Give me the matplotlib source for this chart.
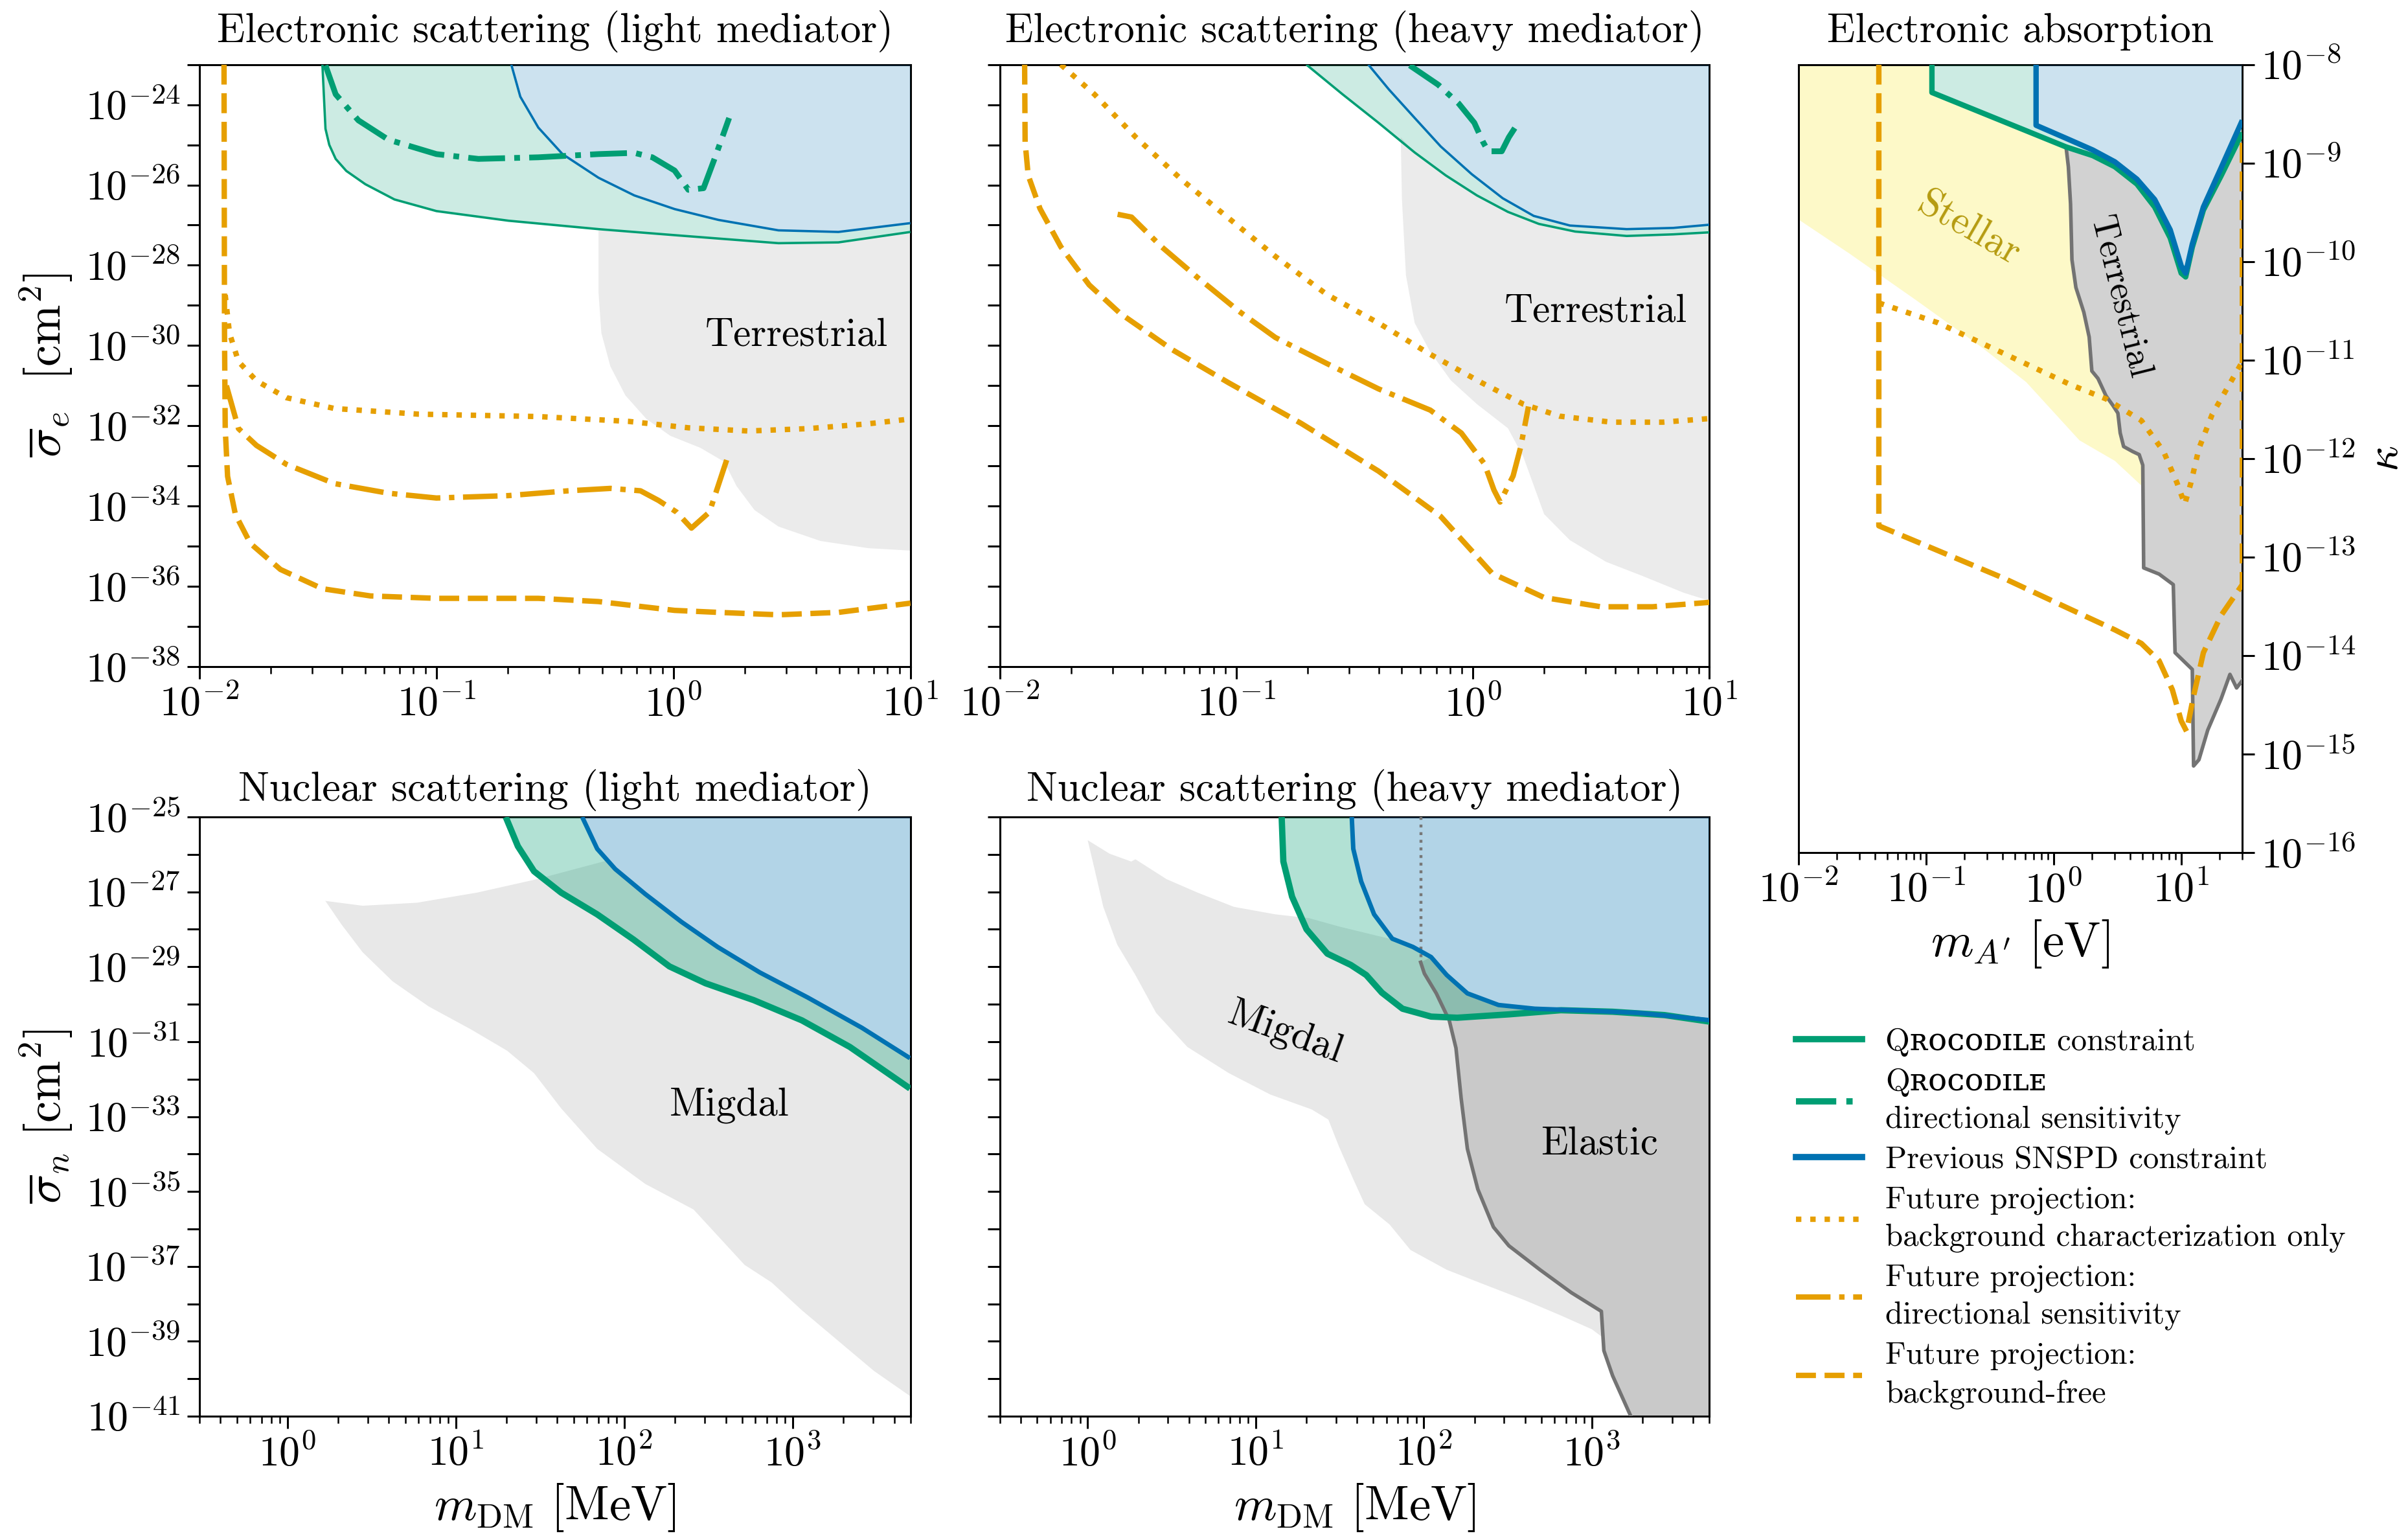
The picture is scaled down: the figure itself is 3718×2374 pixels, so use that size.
import numpy as np
import matplotlib
matplotlib.use("Agg")
import matplotlib.pyplot as plt
from matplotlib.ticker import LogLocator, NullFormatter, NullLocator
from matplotlib.lines import Line2D

plt.rcParams['font.family'] = ['cmr10', 'DejaVu Serif']
plt.rcParams['mathtext.fontset'] = 'cm'
plt.rcParams['axes.formatter.use_mathtext'] = True
plt.rcParams['axes.linewidth'] = 1.1

GREEN = '#009E73'
BLUE = '#0072B2'
ORANGE = '#E69F00'
LIGHTGRAY = '#ebebeb'
MIDGRAY = '#d2d2d2'
EDGEGRAY = '#737373'
YELLOW = '#fdf9c8'

# all values below are log10 of (mass, cross section / kappa)

# --- electronic scattering, light mediator
el_lm_green_x = [-1.481, -1.468, -1.452, -1.425, -1.380, -1.300, -1.177, -1.0, -0.696, -0.316, 0.005, 0.443, 0.696, 1.0]
el_lm_green_y = [-23.0, -24.60, -25.00, -25.35, -25.65, -25.98, -26.36, -26.65, -26.89, -27.10, -27.25, -27.45, -27.43, -27.17]
el_lm_blue_x = [-0.684, -0.646, -0.570, -0.468, -0.316, -0.165, 0.005, 0.19, 0.443, 0.696, 1.0]
el_lm_blue_y = [-23.0, -23.80, -24.57, -25.23, -25.82, -26.26, -26.60, -26.87, -27.13, -27.17, -26.95]
el_lm_gdir_x = [-1.468, -1.425, -1.329, -1.203, -1.0, -0.823, -0.570, -0.316, -0.165, -0.089, 0.005, 0.063, 0.127, 0.177, 0.235]
el_lm_gdir_y = [-23.02, -23.74, -24.39, -24.87, -25.23, -25.35, -25.31, -25.23, -25.20, -25.31, -25.64, -26.12, -26.08, -25.29, -24.33]
el_lm_free_x = [-1.896, -1.894, -1.891, -1.881, -1.848, -1.785, -1.658, -1.481, -1.278, -1.0, -0.570, -0.316, 0.005, 0.19, 0.443, 0.696, 1.0]
el_lm_free_y = [-23.0, -29.69, -32.07, -33.26, -34.21, -34.93, -35.58, -36.06, -36.24, -36.30, -36.30, -36.38, -36.60, -36.65, -36.71, -36.65, -36.42]
el_lm_bkg_x = [-1.891, -1.873, -1.835, -1.759, -1.633, -1.430, -1.076, -0.570, -0.190, 0.063, 0.316, 0.570, 0.823, 1.0]
el_lm_bkg_y = [-28.74, -29.69, -30.40, -30.88, -31.30, -31.57, -31.71, -31.77, -31.89, -32.05, -32.13, -32.07, -31.95, -31.83]
el_lm_dir_x = [-1.886, -1.835, -1.759, -1.633, -1.430, -1.203, -1.0, -0.696, -0.443, -0.266, -0.139, -0.063, 0.013, 0.076, 0.152, 0.228]
el_lm_dir_y = [-31.0, -32.07, -32.49, -32.96, -33.44, -33.68, -33.80, -33.74, -33.62, -33.56, -33.62, -33.86, -34.15, -34.55, -34.15, -32.79]
el_lm_terr_x = [-0.316, -0.316, -0.304, -0.266, -0.203, -0.114, -0.013, 0.114, 0.215, 0.266, 0.342, 0.443, 0.620, 0.823, 1.0]
el_lm_terr_y = [-27.13, -28.68, -29.69, -30.52, -31.24, -31.83, -32.25, -32.55, -32.90, -33.50, -34.10, -34.51, -34.87, -35.05, -35.11]

# --- electronic scattering, heavy mediator
el_hm_green_x = [-0.704, -0.551, -0.399, -0.246, -0.115, 0.017, 0.148, 0.279, 0.432, 0.650, 0.847, 1.0]
el_hm_green_y = [-23.0, -23.74, -24.45, -25.19, -25.76, -26.26, -26.67, -26.97, -27.16, -27.27, -27.23, -27.18]
el_hm_blue_x = [-0.442, -0.355, -0.246, -0.136, -0.005, 0.126, 0.257, 0.410, 0.650, 0.847, 1.0]
el_hm_blue_y = [-23.0, -23.62, -24.33, -25.04, -25.73, -26.33, -26.77, -27.01, -27.10, -27.07, -26.99]
el_hm_gdir_x = [-0.267, -0.147, -0.060, 0.006, 0.043, 0.065, 0.122, 0.152, 0.185]
el_hm_gdir_y = [-23.02, -23.50, -23.97, -24.45, -24.93, -25.16, -25.16, -24.81, -24.51]
el_hm_free_x = [-1.895, -1.893, -1.880, -1.830, -1.742, -1.622, -1.491, -1.272, -1.032, -0.726, -0.399, -0.136, 0.082, 0.301, 0.541, 0.759, 1.0]
el_hm_free_y = [-23.0, -24.93, -25.76, -26.59, -27.54, -28.49, -29.20, -30.10, -30.93, -31.94, -33.13, -34.26, -35.68, -36.28, -36.51, -36.51, -36.40]
el_hm_bkg_x = [-1.742, -1.600, -1.425, -1.229, -1.032, -0.835, -0.617, -0.399, -0.180, 0.038, 0.213, 0.366, 0.585, 0.803, 1.0]
el_hm_bkg_y = [-23.0, -23.74, -24.81, -25.88, -26.83, -27.78, -28.73, -29.44, -30.22, -30.93, -31.46, -31.76, -31.91, -31.91, -31.82]
el_hm_dir_x = [-1.502, -1.443, -1.316, -1.163, -0.988, -0.835, -0.617, -0.399, -0.180, -0.049, 0.049, 0.089, 0.115, 0.170, 0.202, 0.235]
el_hm_dir_y = [-26.73, -26.80, -27.54, -28.31, -29.15, -29.80, -30.45, -31.08, -31.61, -32.18, -32.95, -33.60, -33.90, -33.25, -32.53, -31.52]
el_hm_terr_x = [-0.305, -0.300, -0.283, -0.246, -0.180, -0.093, 0.017, 0.148, 0.213, 0.301, 0.410, 0.563, 0.716, 0.891, 1.0]
el_hm_terr_y = [-24.81, -26.35, -28.25, -29.44, -30.16, -30.87, -31.46, -32.06, -32.77, -34.20, -34.85, -35.39, -35.74, -36.16, -36.36]

# --- electronic absorption
abs_green_x = [-0.953, -0.953, 0.098, 0.307, 0.480, 0.653, 0.792, 0.914, 1.0, 1.035, 1.087, 1.174, 1.312, 1.479]
abs_green_y = [-8.0, -8.283, -8.836, -8.924, -9.037, -9.213, -9.446, -9.760, -10.118, -10.156, -9.854, -9.477, -9.131, -8.691]
abs_blue_x = [-0.137, -0.137, 0.098, 0.307, 0.480, 0.653, 0.792, 0.914, 1.0, 1.035, 1.087, 1.174, 1.312, 1.479]
abs_blue_y = [-8.0, -8.616, -8.748, -8.867, -8.987, -9.163, -9.370, -9.678, -10.043, -10.118, -9.823, -9.446, -9.050, -8.566]
abs_free_x = [-1.369, -1.369, -0.907, -0.387, 0.133, 0.480, 0.688, 0.827, 0.931, 1.0, 1.042, 1.097, 1.174, 1.312, 1.479, 1.479]
abs_free_y = [-8.0, -12.683, -12.934, -13.217, -13.531, -13.739, -13.877, -14.053, -14.348, -14.663, -14.769, -14.411, -13.971, -13.594, -13.280, -8.72]
abs_bkg_x = [-1.369, -0.907, -0.387, 0.133, 0.411, 0.688, 0.862, 0.966, 1.028, 1.077, 1.139, 1.243, 1.479]
abs_bkg_y = [-10.420, -10.621, -10.935, -11.250, -11.394, -11.614, -11.928, -12.243, -12.463, -12.243, -11.897, -11.551, -11.017]
abs_stellar_x = [-2.0, -1.601, -1.081, -0.561, -0.214, 0.203, 0.480, 0.688]
abs_stellar_y = [-9.571, -9.917, -10.388, -10.872, -11.224, -11.815, -12.023, -12.274]
abs_terr_x = [0.098, 0.116, 0.133, 0.144, 0.175, 0.237, 0.279, 0.300, 0.348, 0.411, 0.463, 0.504, 0.522, 0.549, 0.619,
              0.671, 0.699, 0.706, 0.827, 0.938, 0.952, 1.087, 1.097, 1.139, 1.208, 1.312, 1.382, 1.434, 1.479]
abs_terr_y = [-8.836, -9.037, -9.414, -9.980, -10.263, -10.514, -10.766, -11.111, -11.187, -11.363, -11.457, -11.539,
              -11.740, -11.878, -11.928, -11.960, -12.067, -13.110, -13.173, -13.280, -13.971, -14.141, -15.121, -15.058,
              -14.757, -14.442, -14.191, -14.329, -14.254]

# --- nuclear scattering, light mediator
nu_lm_green_x = [1.296, 1.368, 1.464, 1.625, 1.839, 2.054, 2.268, 2.482, 2.768, 3.054, 3.339, 3.696]
nu_lm_green_y = [-25.0, -25.78, -26.45, -27.02, -27.60, -28.27, -28.99, -29.44, -29.89, -30.43, -31.14, -32.25]
nu_lm_blue_x = [1.750, 1.839, 1.946, 2.125, 2.339, 2.554, 2.804, 3.089, 3.411, 3.696]
nu_lm_blue_y = [-25.0, -25.85, -26.39, -27.06, -27.80, -28.47, -29.15, -29.82, -30.63, -31.44]
nu_lm_migdal_top_x = [0.225, 0.446, 0.768, 1.125, 1.482, 1.900]
nu_lm_migdal_top_y = [-27.24, -27.37, -27.29, -27.02, -26.66, -26.16]
nu_lm_migdal_bot_x = [0.225, 0.321, 0.446, 0.625, 0.839, 1.089, 1.304, 1.464, 1.625, 1.839, 2.125, 2.411, 2.714, 2.875,
                      3.054, 3.268, 3.482, 3.696]
nu_lm_migdal_bot_y = [-27.24, -27.87, -28.61, -29.39, -30.06, -30.67, -31.24, -31.84, -32.78, -33.86, -34.80, -35.48,
                      -36.96, -37.43, -38.17, -38.98, -39.79, -40.46]

# --- nuclear scattering, heavy mediator
nu_hm_green_x = [1.154, 1.164, 1.216, 1.302, 1.426, 1.565, 1.657, 1.750, 1.873, 2.043, 2.198, 2.506, 2.815, 3.123, 3.432, 3.710]
nu_hm_green_y = [-25.0, -26.19, -27.13, -28.00, -28.65, -28.95, -29.22, -29.69, -30.12, -30.33, -30.36, -30.27, -30.16,
                 -30.20, -30.29, -30.47]
nu_hm_blue_x = [1.571, 1.580, 1.627, 1.704, 1.812, 1.935, 2.043, 2.136, 2.259, 2.444, 2.660, 2.969, 3.278, 3.710]
nu_hm_blue_y = [-25.0, -25.85, -26.72, -27.60, -28.25, -28.47, -28.74, -29.22, -29.71, -30.02, -30.12, -30.17, -30.23, -30.43]
nu_hm_migdal_top_x = [0.0, 0.130, 0.259, 0.284, 0.469, 0.654, 0.870, 1.117, 1.316, 1.500, 1.711, 1.890]
nu_hm_migdal_top_y = [-25.62, -25.98, -26.19, -26.13, -26.66, -27.02, -27.40, -27.60, -27.70, -27.93, -28.16, -28.35]
nu_hm_migdal_bot_x = [0.0, 0.037, 0.093, 0.176, 0.284, 0.407, 0.593, 0.840, 1.086, 1.333, 1.432, 1.494, 1.580, 1.648,
                      1.796, 1.920, 2.136, 2.352, 2.599, 2.815, 3.0, 3.068, 3.710]
nu_hm_migdal_bot_y = [-25.62, -26.32, -27.40, -28.41, -29.22, -30.23, -31.14, -31.84, -32.41, -32.81, -33.08, -33.79,
                      -34.67, -35.34, -35.88, -36.56, -37.09, -37.47, -37.90, -38.31, -38.68, -38.91, -39.5]
nu_hm_elastic_x = [1.981, 2.003, 2.074, 2.151, 2.191, 2.222, 2.259, 2.321, 2.414, 2.506, 2.691, 2.877, 3.056, 3.071, 3.123, 3.231]
nu_hm_elastic_y = [-28.88, -29.18, -29.71, -30.43, -31.17, -32.52, -33.86, -34.94, -35.95, -36.45, -37.09, -37.70, -38.20,
                   -39.25, -39.92, -41.0]


def P(a):
    return 10.0 ** np.asarray(a, dtype=float)


def constraint(ax, gx, gy, bx, by, alpha, glw, blw, ztop):
    bandx = np.concatenate([gx, bx[::-1]])
    bandy = np.concatenate([gy, by[::-1]])
    ax.fill(P(bandx), P(bandy), color=GREEN, alpha=alpha, lw=0, zorder=3)
    ax.fill(P(list(bx) + [bx[-1]]), P(list(by) + [ztop]), color=BLUE, alpha=alpha, lw=0, zorder=3)
    ax.plot(P(gx), P(gy), color=GREEN, lw=glw, zorder=5, solid_capstyle='butt')
    ax.plot(P(bx), P(by), color=BLUE, lw=blw, zorder=5, solid_capstyle='butt')


def above_curve(cx, cy, x0):
    # part of a boundary curve to the right of x0, walked right-to-left
    cx = np.asarray(cx)
    cy = np.asarray(cy)
    m = cx > x0
    return list(cx[m][::-1]), list(cy[m][::-1])


def style_axes(ax, xlim, ylo, yhi, ylab_start, show_ylabels=True, right=False, every=2):
    ax.set_xscale('log')
    ax.set_yscale('log')
    ax.set_xlim(*xlim)
    ax.set_ylim(10.0 ** ylo, 10.0 ** yhi)
    ax.xaxis.set_major_locator(LogLocator(base=10, numticks=20))
    ax.xaxis.set_minor_locator(LogLocator(base=10, subs=np.arange(2, 10), numticks=50))
    ax.xaxis.set_minor_formatter(NullFormatter())
    decs = list(range(ylo, yhi + 1))
    ax.set_yticks([10.0 ** d for d in decs])
    labs = []
    for d in decs:
        if show_ylabels and (d - ylab_start) % every == 0:
            labs.append(r'$10^{%d}$' % d)
        else:
            labs.append('')
    ax.set_yticklabels(labs)
    ax.yaxis.set_minor_locator(NullLocator())
    ax.tick_params(which='major', direction='out', length=7, width=1.1, labelsize=23)
    ax.tick_params(which='minor', direction='out', length=4, width=0.9)
    if right:
        ax.yaxis.tick_right()


fig = plt.figure(figsize=(18.59, 11.87), dpi=200)

ax_tl = fig.add_axes([0.0828, 0.5666, 0.2953, 0.3914])
ax_tm = fig.add_axes([0.4152, 0.5666, 0.2947, 0.3914])
ax_tr = fig.add_axes([0.7468, 0.4457, 0.1843, 0.5123])
ax_bl = fig.add_axes([0.0828, 0.0792, 0.2953, 0.3896])
ax_bm = fig.add_axes([0.4152, 0.0792, 0.2947, 0.3896])

TITLE_FS = 23
TOP_PAD = 12.5

# ---------- top-left ----------
ax = ax_tl
style_axes(ax, (1e-2, 1e1), -38, -23, -38)
ux, uy = above_curve(el_lm_green_x, el_lm_green_y, el_lm_terr_x[0])
ax.fill(P(list(el_lm_terr_x) + ux), P(list(el_lm_terr_y) + uy), color=LIGHTGRAY, lw=0, zorder=1)
constraint(ax, el_lm_green_x, el_lm_green_y, el_lm_blue_x, el_lm_blue_y, 0.2, 1.3, 1.3, -23.0)
ax.plot(P(el_lm_gdir_x), P(el_lm_gdir_y), color=GREEN, lw=3.2, ls='-.', zorder=6)
ax.plot(P(el_lm_free_x), P(el_lm_free_y), color=ORANGE, lw=3, ls='--', zorder=6)
ax.plot(P(el_lm_bkg_x), P(el_lm_bkg_y), color=ORANGE, lw=3, ls=':', zorder=6)
ax.plot(P(el_lm_dir_x), P(el_lm_dir_y), color=ORANGE, lw=3, ls='-.', zorder=6)
ax.text(3.3, 10 ** -29.75, 'Terrestrial', fontsize=22, ha='center', va='center', zorder=7)
ax.set_title('Electronic scattering (light mediator)', fontsize=TITLE_FS, pad=TOP_PAD)
ax.set_ylabel(r'$\overline{\sigma}_e\ \ [\mathrm{cm}^2]$', fontsize=27, labelpad=6)

# ---------- top-middle ----------
ax = ax_tm
style_axes(ax, (1e-2, 1e1), -38, -23, -38, show_ylabels=False)
ux, uy = above_curve(el_hm_green_x, el_hm_green_y, el_hm_terr_x[0])
ax.fill(P(list(el_hm_terr_x) + ux), P(list(el_hm_terr_y) + uy), color=LIGHTGRAY, lw=0, zorder=1)
constraint(ax, el_hm_green_x, el_hm_green_y, el_hm_blue_x, el_hm_blue_y, 0.2, 1.3, 1.3, -23.0)
ax.plot(P(el_hm_gdir_x), P(el_hm_gdir_y), color=GREEN, lw=3.2, ls='-.', zorder=6)
ax.plot(P(el_hm_free_x), P(el_hm_free_y), color=ORANGE, lw=3, ls='--', zorder=6)
ax.plot(P(el_hm_bkg_x), P(el_hm_bkg_y), color=ORANGE, lw=3, ls=':', zorder=6)
ax.plot(P(el_hm_dir_x), P(el_hm_dir_y), color=ORANGE, lw=3, ls='-.', zorder=6)
ax.text(3.3, 10 ** -29.15, 'Terrestrial', fontsize=22, ha='center', va='center', zorder=7)
ax.set_title('Electronic scattering (heavy mediator)', fontsize=TITLE_FS, pad=TOP_PAD)

# ---------- top-right ----------
ax = ax_tr
style_axes(ax, (1e-2, 30), -16, -8, -16, right=True, every=1)
gx = np.asarray(abs_green_x)
gy = np.asarray(abs_green_y)
tmask = np.asarray(abs_terr_y) > -12.1
sx = [-2.0] + list(gx[gx <= 0.098]) + list(np.asarray(abs_terr_x)[tmask][1:]) + list(abs_stellar_x[::-1])
sy = [-8.0] + list(gy[gx <= 0.098]) + list(np.asarray(abs_terr_y)[tmask][1:]) + list(abs_stellar_y[::-1])
ax.fill(P(sx), P(sy), color=YELLOW, lw=0, zorder=1)
ux, uy = above_curve(abs_green_x, abs_green_y, abs_terr_x[0])
ax.fill(P(list(abs_terr_x) + ux), P(list(abs_terr_y) + uy), color=MIDGRAY, lw=0, zorder=2)
ax.plot(P(abs_terr_x), P(abs_terr_y), color=EDGEGRAY, lw=2, zorder=4)
constraint(ax, abs_green_x, abs_green_y, abs_blue_x, abs_blue_y, 0.2, 3, 3, -8.0)
ax.plot(P(abs_free_x), P(abs_free_y), color=ORANGE, lw=3, ls='--', zorder=6)
ax.plot(P(abs_bkg_x), P(abs_bkg_y), color=ORANGE, lw=3, ls=':', zorder=6)
ax.text(0.216, 10 ** -9.67, 'Stellar', fontsize=22, color='#b59b10', rotation=-30,
        ha='center', va='center', zorder=7)
ax.text(3.27, 10 ** -10.36, 'Terrestrial', fontsize=20, rotation=-76, ha='center', va='center', zorder=7)
ax.set_title('Electronic absorption', fontsize=TITLE_FS, pad=TOP_PAD)
ax.set_xlabel(r"$m_{A'}\ [\mathrm{eV}]$", fontsize=27, labelpad=4)
ax.yaxis.set_label_position('right')
ax.set_ylabel(r'$\kappa$', fontsize=25, rotation=90, va='center')
ax.yaxis.set_label_coords(1.325, 0.5)

# ---------- bottom-left ----------
ax = ax_bl
style_axes(ax, (0.3, 5000), -41, -25, -41)
ux, uy = above_curve(nu_lm_blue_x, nu_lm_blue_y, nu_lm_migdal_top_x[-1])
mx = list(nu_lm_migdal_top_x) + ux[::-1] + list(nu_lm_migdal_bot_x[::-1])
my = list(nu_lm_migdal_top_y) + uy[::-1] + list(nu_lm_migdal_bot_y[::-1])
ax.fill(P(mx), P(my), color='#e8e8e8', lw=0, zorder=1)
constraint(ax, nu_lm_green_x, nu_lm_green_y, nu_lm_blue_x, nu_lm_blue_y, 0.3, 3.5, 2.5, -25.0)
ax.text(422, 10 ** -32.7, 'Migdal', fontsize=22, ha='center', va='center', zorder=7)
ax.set_title('Nuclear scattering (light mediator)', fontsize=TITLE_FS, pad=9)
ax.set_ylabel(r'$\overline{\sigma}_n\ [\mathrm{cm}^2]$', fontsize=27, labelpad=6)
ax.set_xlabel(r'$m_{\mathrm{DM}}\ [\mathrm{MeV}]$', fontsize=27, labelpad=4)

# ---------- bottom-middle ----------
ax = ax_bm
style_axes(ax, (0.3, 5000), -41, -25, -41, show_ylabels=False)
ux, uy = above_curve(nu_hm_blue_x, nu_hm_blue_y, nu_hm_migdal_top_x[-1])
mx = list(nu_hm_migdal_top_x) + ux[::-1] + list(nu_hm_migdal_bot_x[::-1])
my = list(nu_hm_migdal_top_y) + uy[::-1] + list(nu_hm_migdal_bot_y[::-1])
ax.fill(P(mx), P(my), color='#e8e8e8', lw=0, zorder=1)
ux, uy = above_curve(nu_hm_blue_x, nu_hm_blue_y, nu_hm_elastic_x[0])
ex = list(nu_hm_elastic_x) + [3.71] + ux
ey = list(nu_hm_elastic_y) + [-41.0] + uy
ax.fill(P(ex), P(ey), color='#c9c9c9', lw=0, zorder=2)
ax.plot(P(nu_hm_elastic_x), P(nu_hm_elastic_y), color=EDGEGRAY, lw=2, zorder=4)
ax.plot(P([nu_hm_elastic_x[0], nu_hm_elastic_x[0]]), P([-25.0, nu_hm_elastic_y[0]]),
        color='#777777', lw=1.6, ls=':', zorder=4)
constraint(ax, nu_hm_green_x, nu_hm_green_y, nu_hm_blue_x, nu_hm_blue_y, 0.3, 3.5, 2.5, -25.0)
ax.text(15.1, 10 ** -30.76, 'Migdal', fontsize=22, rotation=-20, ha='center', va='center', zorder=7)
ax.text(1112, 10 ** -33.73, 'Elastic', fontsize=22, ha='center', va='center', zorder=7)
ax.set_title('Nuclear scattering (heavy mediator)', fontsize=TITLE_FS, pad=9)
ax.set_xlabel(r'$m_{\mathrm{DM}}\ [\mathrm{MeV}]$', fontsize=27, labelpad=4)

# ---------- legend ----------
handles = [
    Line2D([], [], color=GREEN, lw=3.5),
    Line2D([], [], color=GREEN, lw=3.5, ls='-.'),
    Line2D([], [], color=BLUE, lw=3.5),
    Line2D([], [], color=ORANGE, lw=3, ls=':'),
    Line2D([], [], color=ORANGE, lw=3, ls='-.'),
    Line2D([], [], color=ORANGE, lw=3, ls='--'),
]
labels = [
    'Q\u0280\u1d0f\u1d04\u1d0f\u1d05\u026a\u029f\u1d07 constraint',
    'Q\u0280\u1d0f\u1d04\u1d0f\u1d05\u026a\u029f\u1d07\ndirectional sensitivity',
    'Previous SNSPD constraint',
    'Future projection:\nbackground characterization only',
    'Future projection:\ndirectional sensitivity',
    'Future projection:\nbackground-free',
]
leg = fig.legend(handles, labels, loc='upper left', bbox_to_anchor=(0.734, 0.350), frameon=False,
                 fontsize=17.5, handlelength=2.1, handletextpad=0.75, labelspacing=0.36)
for t in leg.get_texts():
    t.set_linespacing(1.4)

fig.savefig('out.png', dpi=200)
